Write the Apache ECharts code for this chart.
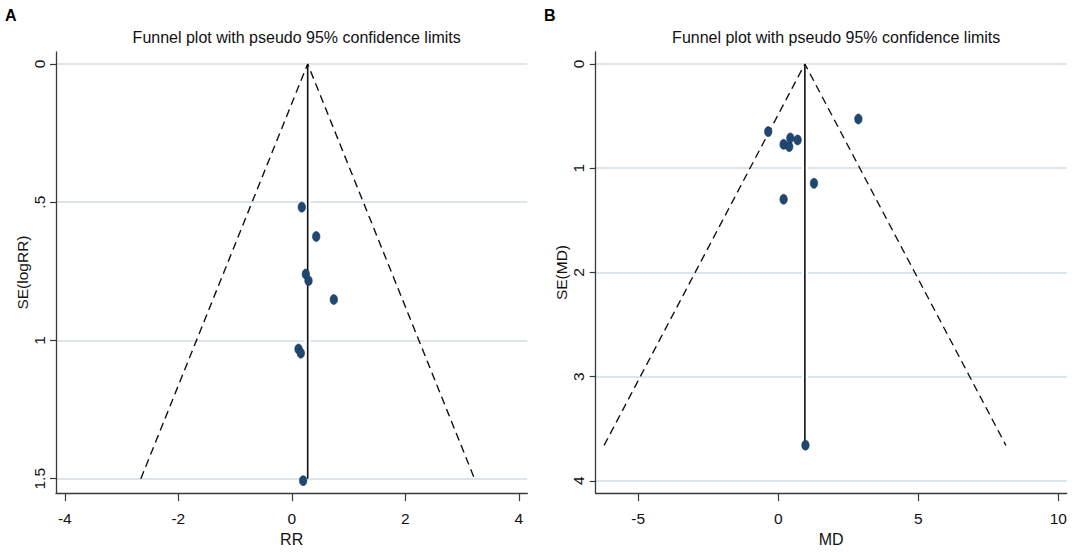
<!DOCTYPE html>
<html>
<head>
<meta charset="utf-8">
<script src="https://cdn.jsdelivr.net/npm/echarts@6/dist/echarts.min.js"></script>
<style>
  html, body { margin: 0; padding: 0; background: #fff; }
  #chart { width: 1084px; height: 552px; }
</style>
</head>
<body>
<div id="chart"></div>
<script>
// Panel A: log risk ratio studies
var rrA = [0.176, 0.43, 0.247, 0.294, 0.74, 0.118, 0.159, 0.20];
var seA = [0.518, 0.624, 0.760, 0.784, 0.852, 1.031, 1.046, 1.507];
var pooledA = 0.28;
var funnelA_x = [-2.66, 0.28, 3.22];
var funnelA_se = [1.5, 0, 1.5];
var ticksA_x = [-4, -2, 0, 2, 4];
var ticksA_y = [0, 0.5, 1, 1.5];

// Panel B: mean difference studies
var mdB = [-0.36, 0.19, 0.39, 0.43, 0.69, 2.86, 1.275, 0.19, 0.97];
var seB = [0.649, 0.771, 0.793, 0.71, 0.729, 0.528, 1.145, 1.298, 3.658];
var pooledB = 0.95;
var funnelB_x = [-6.22, 0.95, 8.13];
var funnelB_se = [3.66, 0, 3.66];
var vlineB_se = [0, 3.66];
var ticksB_x = [-5, 0, 5, 10];
var ticksB_y = [0, 1, 2, 3, 4];

var FONT = "'Liberation Sans', Arial, sans-serif";
var navy = '#1f4770';
var axisCol = '#3a3a3a';
var gridCol = '#dce5eb';

function pairs(xs, ys) {
    return xs.map(function (x, i) { return [x, ys[i]]; });
}

function yFmt(v) {
    return String(v).replace(/^0\./, '.');
}

function xAxisOf(idx, min, max, ticks, name) {
    return {
        type: 'value', gridIndex: idx, min: min, max: max,
        name: name, nameLocation: 'middle', nameGap: 35,
        nameTextStyle: { fontFamily: FONT, fontSize: 16, color: '#111' },
        axisLine: { show: true, onZero: false, lineStyle: { color: axisCol, width: 1.3 } },
        axisTick: { show: true, length: 8, customValues: ticks, lineStyle: { color: axisCol, width: 1.2 } },
        axisLabel: { customValues: ticks, margin: 17, fontFamily: FONT, fontSize: 15.5, color: '#111' },
        splitLine: { show: false }
    };
}

function yAxisOf(idx, min, max, ticks, name) {
    return {
        type: 'value', gridIndex: idx, min: min, max: max, inverse: true,
        name: name, nameLocation: 'middle', nameGap: 22, nameRotate: 90,
        nameTextStyle: { fontFamily: FONT, fontSize: 15.5, color: '#111' },
        axisLine: { show: true, onZero: false, lineStyle: { color: axisCol, width: 1.3 } },
        axisTick: { show: true, length: 6, customValues: ticks, lineStyle: { color: axisCol, width: 1.2 } },
        axisLabel: { customValues: ticks, rotate: 90, margin: 9, fontFamily: FONT, fontSize: 15.5, color: '#111',
                     formatter: yFmt },
        splitLine: { show: true, lineStyle: { color: gridCol, width: 2 } }
    };
}

function panelSeries(idx, xs, ys, fx, fy, vx, vy) {
    var vline = [[vx, vy[0]], [vx, vy[1]]];
    return [
        { type: 'line', xAxisIndex: idx, yAxisIndex: idx, data: vline, symbol: 'none', silent: true,
          lineStyle: { color: '#fff', width: 6 }, z: 2 },
        { type: 'line', xAxisIndex: idx, yAxisIndex: idx, data: vline, symbol: 'none', silent: true,
          lineStyle: { color: '#111', width: 1.6 }, z: 3 },
        { type: 'line', xAxisIndex: idx, yAxisIndex: idx, data: pairs(fx, fy), symbol: 'none', silent: true,
          lineStyle: { color: '#111', width: 1.4, type: [8, 5] }, z: 3 },
        { type: 'scatter', xAxisIndex: idx, yAxisIndex: idx, data: pairs(xs, ys),
          symbol: 'circle', symbolSize: [7.5, 10],
          itemStyle: { color: navy, opacity: 1, borderColor: '#173a5e', borderWidth: 0.6 }, z: 4 }
    ];
}

var chart = echarts.init(document.getElementById('chart'), null, { renderer: 'svg' });

var option = {
    backgroundColor: '#fff',
    animation: false,
    title: [
        { text: 'A', left: 0, top: 2, textStyle: { fontFamily: FONT, fontWeight: 'bold', fontSize: 16, color: '#000' } },
        { text: 'B', left: 539, top: 2, textStyle: { fontFamily: FONT, fontWeight: 'bold', fontSize: 16, color: '#000' } },
        { text: 'Funnel plot with pseudo 95% confidence limits', left: 291.7, top: 24, textAlign: 'center',
          textStyle: { fontFamily: FONT, fontWeight: 'normal', fontSize: 16, color: '#111' } },
        { text: 'Funnel plot with pseudo 95% confidence limits', left: 831.2, top: 24, textAlign: 'center',
          textStyle: { fontFamily: FONT, fontWeight: 'normal', fontSize: 16, color: '#111' } }
    ],
    grid: [
        { left: 56, right: 556.7, top: 52, bottom: 58.7 },
        { left: 595.7, right: 17.3, top: 52, bottom: 58.7 }
    ],
    xAxis: [
        xAxisOf(0, -4.155, 4.15, ticksA_x, 'RR'),
        xAxisOf(1, -6.52, 10.3, ticksB_x, 'MD')
    ],
    yAxis: [
        yAxisOf(0, -0.043, 1.552, ticksA_y, 'SE(logRR)'),
        yAxisOf(1, -0.115, 4.118, ticksB_y, 'SE(MD)')
    ],
    series: [].concat(
        panelSeries(0, rrA, seA, funnelA_x, funnelA_se, pooledA, [0, 1.5]),
        panelSeries(1, mdB, seB, funnelB_x, funnelB_se, pooledB, vlineB_se)
    )
};

chart.setOption(option);
</script>
</body>
</html>
